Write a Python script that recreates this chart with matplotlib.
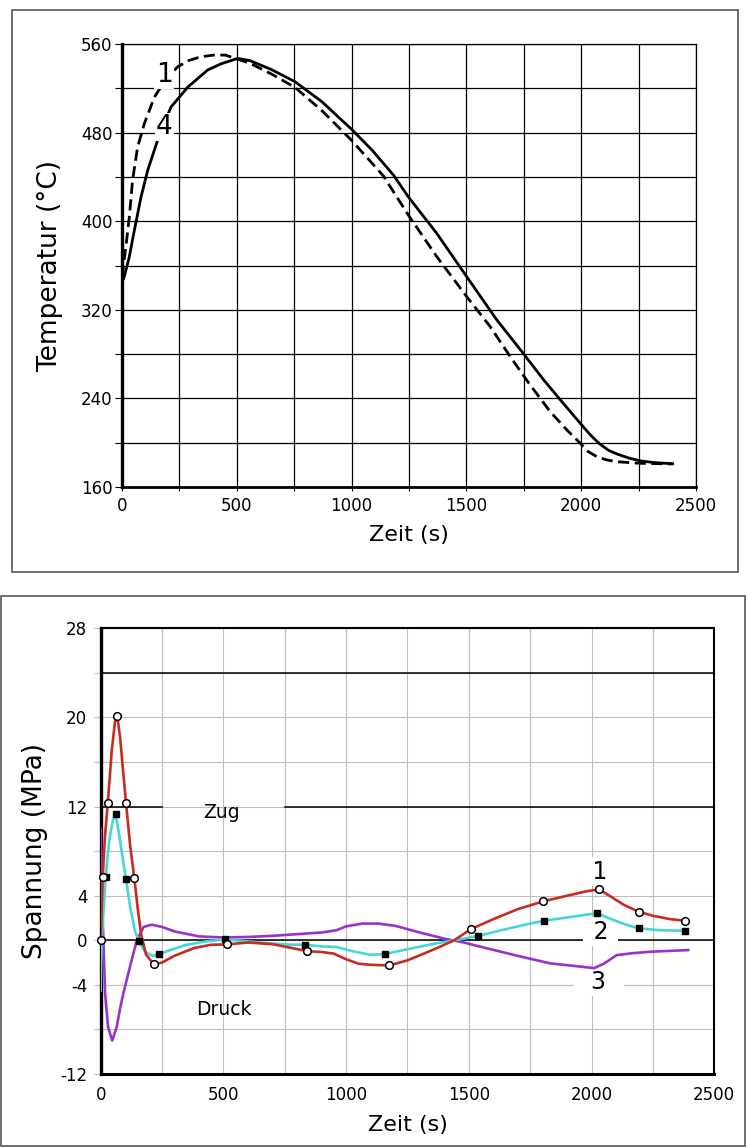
import matplotlib
matplotlib.use("Agg")
import matplotlib.pyplot as plt
from matplotlib.patches import Rectangle

# --- top chart: temperature (deg C) over time (s) ---
# curve 4 (solid)
t_sol = [0, 10, 32, 54, 83, 112, 155, 213, 286, 373, 430, 504, 557, 650, 753, 870,
         1000, 1090, 1182, 1247, 1371, 1501, 1632, 1750, 1837, 1920, 1996, 2040, 2080,
         2120, 2160, 2210, 2260, 2320, 2398]
T_sol = [345, 350, 368, 392, 422, 446, 473, 503, 521, 536.5, 542, 547, 545, 537, 526, 508,
         483, 464, 441.7, 422, 389, 350, 311, 280, 256.6, 236, 217.5, 207, 199,
         193, 189.5, 186, 183.5, 182, 181]
# curve 1 (dashed)
t_dash = [0, 17, 32, 46, 68, 97, 141, 190, 243, 290, 344, 400, 450, 557, 650, 753, 870,
          1000, 1138, 1247, 1371, 1501, 1603, 1690, 1771, 1865, 1940, 1996, 2030, 2069,
          2110, 2156, 2257, 2398]
T_dash = [350, 377, 404, 437, 467, 488, 512, 528, 539.5, 545, 548.5, 550, 550, 542.6, 533,
          520.9, 500, 473, 441, 405.6, 368, 332, 305, 278, 254, 228, 211, 199.5, 192, 187.3,
          184.5, 182.8, 181.4, 180.8]

# --- bottom chart: stress (MPa) over time (s) ---
# curve 1 (red)
t_red = [0, 8, 18, 29, 45, 58, 68, 80, 92, 103, 120, 137, 150, 165, 185, 217, 250, 300,
         380, 450, 516, 600, 700, 780, 842, 900, 950, 1000, 1050, 1100, 1175, 1250, 1300,
         1370, 1440, 1508, 1600, 1700, 1804, 1900, 1980, 2031, 2080, 2130, 2193, 2250,
         2320, 2382]
s_red = [0, 5.65, 9.5, 12.35, 17, 19.6, 20.1, 18, 15, 12.35, 8.5, 5.6, 3, 0.5, -1.3, -2.16,
         -2.0, -1.4, -0.7, -0.4, -0.37, -0.2, -0.35, -0.7, -0.98, -1.05, -1.2, -1.7, -2.1,
         -2.2, -2.26, -1.8, -1.35, -0.7, 0.0, 1.0, 1.9, 2.8, 3.5, 4.0, 4.4, 4.57, 3.9, 3.2,
         2.55, 2.2, 1.9, 1.75]
t_red_pts = [0, 8, 29, 68, 103, 137, 217, 516, 842, 1175, 1508, 1804, 2031, 2193, 2382]
s_red_pts = [0, 5.65, 12.35, 20.1, 12.35, 5.6, -2.16, -0.37, -0.98, -2.26, 1.0, 3.5, 4.57,
             2.55, 1.75]

# curve 2 (cyan)
t_cyan = [0, 4, 20, 35, 50, 61, 75, 90, 103, 120, 140, 156, 180, 210, 239, 280, 350, 430,
          506, 600, 700, 780, 833, 900, 960, 1030, 1100, 1160, 1250, 1350, 1440, 1536,
          1650, 1750, 1805, 1900, 1980, 2023, 2080, 2140, 2192, 2280, 2382]
s_cyan = [-4.5, 0, 5.65, 9, 10.8, 11.33, 9.5, 7.3, 5.5, 3.0, 0.8, -0.1, -1.0, -1.4, -1.24,
          -0.9, -0.4, -0.1, 0.08, -0.1, -0.3, -0.4, -0.4, -0.55, -0.6, -1.0, -1.3, -1.23,
          -0.8, -0.35, 0.0, 0.38, 1.0, 1.5, 1.75, 2.05, 2.3, 2.42, 1.9, 1.4, 1.07, 0.9, 0.86]
t_cyan_pts = [20, 61, 103, 156, 239, 506, 833, 1160, 1536, 1805, 2023, 2192, 2382]
s_cyan_pts = [5.65, 11.33, 5.5, -0.1, -1.24, 0.08, -0.4, -1.23, 0.38, 1.75, 2.42, 1.07, 0.86]

# curve 3 (purple)
t_pur = [0, 8, 18, 30, 47, 65, 80, 92, 119, 147, 175, 208, 250, 300, 400, 500, 600, 700,
         800, 900, 960, 1000, 1066, 1130, 1200, 1300, 1400, 1480, 1559, 1700, 1831, 1950,
         2010, 2050, 2102, 2170, 2238, 2320, 2394]
s_pur = [10, 2, -4.8, -7.8, -9.0, -7.8, -6.0, -4.8, -2.4, 0, 1.2, 1.4, 1.2, 0.8, 0.35, 0.25,
         0.3, 0.4, 0.55, 0.7, 0.9, 1.25, 1.5, 1.5, 1.3, 0.7, 0.15, -0.2, -0.64, -1.4, -2.07,
         -2.35, -2.5, -2.1, -1.33, -1.15, -1.03, -0.95, -0.88]

plt.rcParams['font.family'] = ['DejaVu Sans']
plt.rcParams['axes.unicode_minus'] = False

W, H = 747.0, 1148.0
fig = plt.figure(figsize=(W / 100, H / 100), dpi=100)


def box(x0, y0, x1, y1):
    # pixel box (top-left origin) -> figure fraction
    return [x0 / W, 1 - y1 / H, (x1 - x0) / W, (y1 - y0) / H]


# frames around the two panels
for b in (box(12, 10, 738, 572), box(1, 596, 745, 1146)):
    fig.add_artist(Rectangle((b[0], b[1]), b[2], b[3], transform=fig.transFigure,
                             fill=False, ec='#555555', lw=1.2))

# ---------------- top panel ----------------
ax1 = fig.add_axes(box(122, 44, 696, 487))
ax1.plot(t_sol, T_sol, color='black', lw=2.0, zorder=3)
ax1.plot(t_dash, T_dash, color='black', lw=2.0, dashes=(4, 2), zorder=3)
ax1.set_xlim(0, 2500)
ax1.set_ylim(160, 560)
ax1.set_xticks(range(0, 2501, 500))
ax1.set_xticks(range(250, 2500, 500), minor=True)
ax1.set_yticks(range(160, 561, 80))
ax1.set_yticks(range(200, 560, 80), minor=True)
ax1.grid(True, which='both', color='black', lw=0.9)
ax1.set_axisbelow(True)
ax1.tick_params(axis='y', which='both', length=5, width=0.8, pad=2, labelsize=12)
ax1.tick_params(axis='x', which='both', length=3, width=0.8, pad=4, labelsize=12)
ax1.spines['left'].set_linewidth(2.4)
ax1.spines['bottom'].set_linewidth(2.0)
ax1.spines['top'].set_linewidth(0.9)
ax1.spines['right'].set_linewidth(0.9)
ax1.set_xlabel('Zeit (s)', fontsize=16)
ax1.xaxis.set_label_coords(0.5, -0.108)
ax1.xaxis.label.set_va('center')
ax1.set_ylabel('Temperatur (°C)', fontsize=19)
ax1.yaxis.set_label_coords(-0.125, 0.5)
ax1.yaxis.label.set_va('center')
for lab, x, y in (('1', 183, 532), ('4', 184, 485)):
    ax1.text(x, y, lab, fontsize=19, ha='center', va='center', zorder=4,
             bbox=dict(boxstyle='square,pad=0.05', fc='white', ec='none'))

# ---------------- bottom panel ----------------
ax2 = fig.add_axes(box(100.7, 628.3, 714.3, 1074))
ax2.set_xlim(0, 2500)
ax2.set_ylim(-12, 28)
ax2.set_xticks(range(0, 2501, 500))
ax2.set_xticks(range(250, 2500, 500), minor=True)
ax2.set_yticks([-12, -4, 0, 4, 12, 20, 28])
ax2.set_yticks([-8, 8, 16, 24], minor=True)
ax2.grid(True, which='both', color='#bdbdbd', lw=0.8)
ax2.set_axisbelow(True)
ax2.tick_params(axis='y', which='both', length=5.3, width=0.8, color='#bdbdbd',
                pad=4.3, labelsize=12)
ax2.tick_params(axis='x', which='both', length=0, pad=9, labelsize=12)
for side, w in (('left', 2.4), ('bottom', 2.2), ('right', 1.5), ('top', 1.5)):
    ax2.spines[side].set_linewidth(w)

ax2.axhline(24, color='black', lw=1.1, zorder=1.5)
ax2.axhline(0, color='black', lw=1.1, zorder=1.5)
ax2.plot([0, 250], [12, 12], color='black', lw=1.1, zorder=1.5)
ax2.plot([750, 2500], [12, 12], color='black', lw=1.1, zorder=1.5)

ax2.plot(t_pur, s_pur, color='#9932cc', lw=1.9, zorder=3)
ax2.plot(t_cyan, s_cyan, color='#45d6d6', lw=1.9, zorder=3.1)
ax2.plot(t_red, s_red, color='#c62d20', lw=1.9, zorder=3.2)
ax2.plot(t_cyan_pts, s_cyan_pts, 's', color='black', ms=4, zorder=4, clip_on=False)
ax2.plot(t_red_pts, s_red_pts, 'o', mfc='white', mec='black', ms=5.5, mew=1.1,
         zorder=4.1, clip_on=False)

ax2.text(490, 11.5, 'Zug', fontsize=13.5, ha='center', va='center', zorder=2)
ax2.text(500, -6.2, 'Druck', fontsize=13.5, ha='center', va='center', zorder=2)
for lab, x, y in ((' 1 ', 2034, 6.15), (' 2 ', 2037, 0.77), ('  3  ', 2030, -3.72)):
    ax2.text(x, y, lab, fontsize=17, ha='center', va='center', zorder=2,
             bbox=dict(boxstyle='square,pad=0.1', fc='white', ec='none'))

ax2.set_xlabel('Zeit (s)', fontsize=16)
ax2.xaxis.set_label_coords(0.5, -0.114)
ax2.xaxis.label.set_va('center')
ax2.set_ylabel('Spannung (MPa)', fontsize=19)
ax2.yaxis.set_label_coords(-0.107, 0.5)
ax2.yaxis.label.set_va('center')

fig.savefig('out.png', dpi=100)
